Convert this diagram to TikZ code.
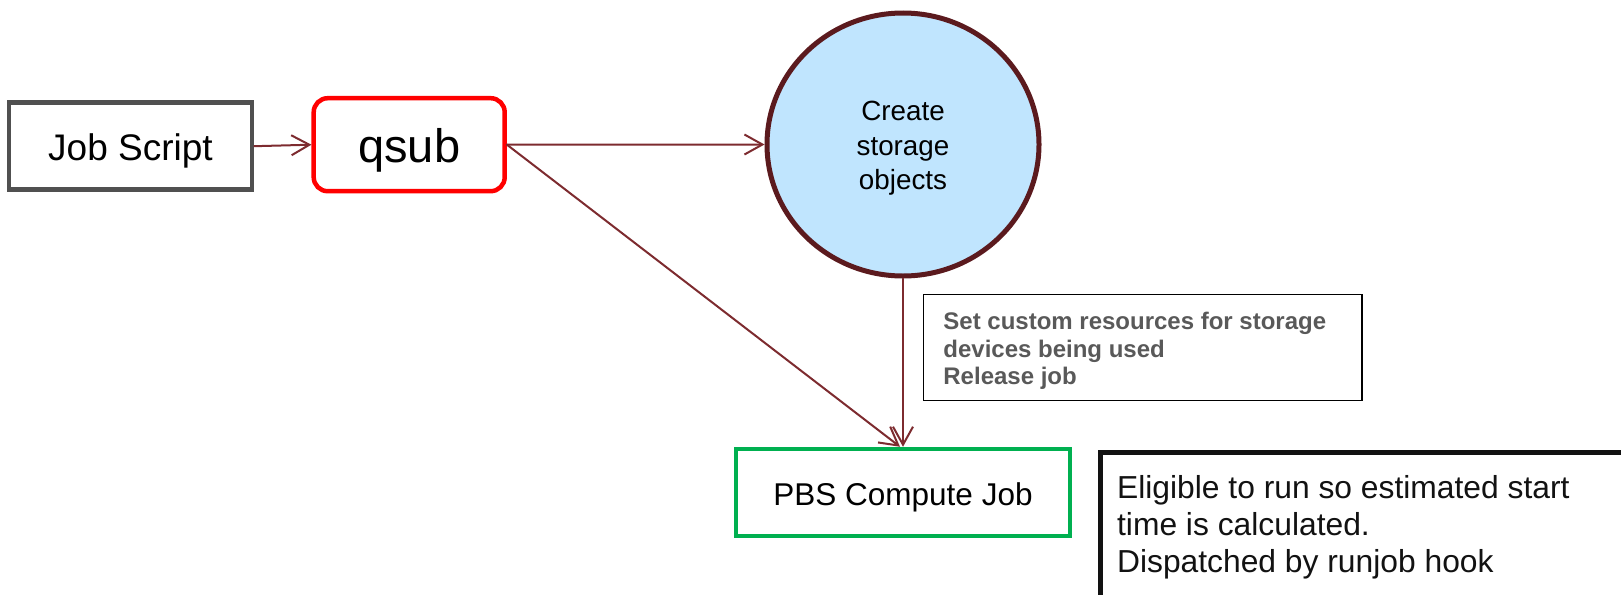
\documentclass[tikz,border=0pt]{standalone}
\usepackage{fontspec}
\setmainfont{Liberation Sans}
\usetikzlibrary{arrows.meta,shapes.geometric}
\definecolor{arrowc}{HTML}{7D2B2F}
\definecolor{circb}{HTML}{5B1A1E}
\definecolor{circf}{HTML}{C0E5FE}
\definecolor{grnc}{HTML}{00B050}
\definecolor{grayb}{HTML}{505050}
\definecolor{notetext}{HTML}{595959}
\newcommand{\dropby}[2]{\raisebox{-#1}[\height][\depth]{#2}}
\tikzset{
  conn/.style={draw=arrowc, line width=1pt, line cap=round, -{Straight Barb[length=9pt,width=10pt,line width=1pt]}},
  jsbox/.style={draw=grayb, line width=2.25pt, minimum width=121.5pt, minimum height=43.5pt, inner sep=0pt, font=\fontsize{18.5}{22}\selectfont},
  qbox/.style={draw=red, line width=2.25pt, rounded corners=7pt, minimum width=95.5pt, minimum height=46.5pt, inner sep=0pt, font=\fontsize{23.5}{28}\selectfont},
  circnode/.style={ellipse, draw=circb, fill=circf, line width=2.5pt, minimum width=136pt, minimum height=131.5pt, inner sep=0pt, align=center, font=\fontsize{13.9}{16.5}\selectfont},
  thinbox/.style={draw=black, line width=0.75pt, minimum width=219.25pt, minimum height=53pt, inner sep=0pt},
  thinline/.style={anchor=base west, inner sep=0pt, text=notetext, font=\fontsize{12}{13.5}\selectfont\bfseries},
  pbsbox/.style={draw=grnc, line width=2.25pt, minimum width=167pt, minimum height=43.5pt, inner sep=0pt, font=\fontsize{15.75}{19}\selectfont},
  bigbox/.style={draw=black!93, line width=2.75pt, anchor=north west, minimum width=320pt, minimum height=100pt, inner sep=0pt},
  bigline/.style={anchor=base west, inner sep=0pt, text=black!93, font=\fontsize{15.9}{18.5}\selectfont}
}
\begin{document}
\begin{tikzpicture}[x=0.5pt,y=-0.5pt]
\useasboundingbox (0,0) rectangle (1621,594);
\clip (0,0) rectangle (1621,594);
\node[jsbox] (js) at (130.5,146.2) {\dropby{2.6pt}{Job Script}};
\node[qbox] (qsub) at (409.2,144.7) {\dropby{2.9pt}{qsub}};
\node[circnode] (circ) at (903,144.5) {\dropby{2pt}{\begin{tabular}{@{}c@{}}Create\\[0.6pt]storage\\[0.6pt]objects\end{tabular}}};
\node[thinbox] (note) at (1142.8,347.3) {};
\node[thinline] (n1) at (943,329.5) {Set custom resources for storage};
\node[thinline] (n2) at (943,357) {devices being used};
\node[thinline] (n3) at (943,384) {Release job};
\node[pbsbox] (pbs) at (903,492.5) {\dropby{2.6pt}{PBS Compute Job}};
\node[bigbox] (big) at (1097.8,449.5) {};
\node[bigline] (b1) at (1116.7,498.5) {Eligible to run so estimated start};
\node[bigline] (b2) at (1116.7,535.5) {time is calculated.};
\node[bigline] (b3) at (1116.7,572.5) {Dispatched by runjob hook};
\coordinate (tipd) at ([xshift=-1.5pt]pbs.north);
\draw[conn] (js.east) -- (qsub.west);
\draw[conn] (qsub.east) -- (circ.west);
\draw[conn] (qsub.east) -- (tipd);
\draw[conn] (circ.south) -- (pbs.north);
\end{tikzpicture}
\end{document}
